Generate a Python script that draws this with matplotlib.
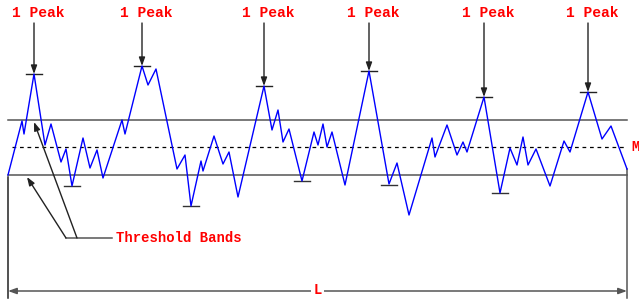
import matplotlib
matplotlib.use("Agg")
import matplotlib.pyplot as plt

# Profile (schematic units = picture units, y grows downward)
profile_x = [8, 22, 24, 34, 45, 51, 61, 66, 72, 83, 90, 97, 103, 122, 125, 142, 148, 156,
             177, 185, 191, 201, 203, 214, 223, 229, 238, 264, 272, 278, 283, 289, 302,
             314, 318, 323, 327, 332, 345, 369, 389, 397, 409, 432, 435, 447, 457, 463,
             467, 484, 500, 510, 517, 523, 528, 536, 550, 564, 570, 588, 602, 611, 627]
profile_y = [175, 121, 134, 74, 145, 124, 162, 149, 186, 138, 168, 150, 178, 120, 134, 66, 85, 69,
             169, 155, 206, 161, 171, 136, 164, 152, 197, 86, 130, 110, 142, 129, 181,
             132, 145, 124, 147, 132, 185, 71, 184, 163, 215, 138, 157, 125, 155, 142,
             152, 97, 193, 148, 165, 137, 165, 149, 186, 141, 152, 92, 139, 126, 169]

peak_x = [34, 142, 264, 369, 484, 588]
peak_y = [74, 66, 86, 71, 97, 92]
valley_x = [72, 191, 302, 389, 500]
valley_y = [186, 206, 181, 185, 193]

upper_band = 120
mean_line = 147
lower_band = 175
x_start, x_end = 8, 627

peak_label = "1 Peak"
band_label = "Threshold Bands"
length_label = "L"
mean_label = "M"

fig = plt.figure(figsize=(6.39, 3.0), dpi=100)
ax = fig.add_axes([0, 0, 1, 1])
ax.set_xlim(0, 639)
ax.set_ylim(300, 0)
ax.axis("off")

font = dict(family=["Liberation Mono", "DejaVu Sans Mono"], weight="bold", color="#ff0000", size=10.5)
font_small = dict(font, size=10)

arrow_style = "-|>,head_length=0.5,head_width=0.18"

# bands
ax.plot([x_start, x_end], [upper_band, upper_band], color="#555555", lw=1.1, zorder=1)
ax.plot([x_start, x_end], [lower_band, lower_band], color="#555555", lw=1.1, zorder=1)
ax.plot([x_start + 4, x_end], [mean_line, mean_line], color="black", lw=0.9,
        dashes=(3, 3), zorder=1)

# profile
ax.plot(profile_x, profile_y, color="#0000ff", lw=1.0, zorder=3)

# peak markers and arrows
for px, py in zip(peak_x, peak_y):
    ax.plot([px - 8, px + 8], [py, py], color="#222222", lw=1.0, zorder=2)
    ax.annotate("", xy=(px, py), xytext=(px, 23),
                arrowprops=dict(arrowstyle=arrow_style,
                                color="#222222", lw=1.0, shrinkA=0, shrinkB=0))
    ax.text(px + 4, 13, peak_label, ha="center", va="center", **font)

for vx, vy in zip(valley_x, valley_y):
    ax.plot([vx - 8, vx + 8], [vy, vy], color="#333333", lw=1.0, zorder=2)

# threshold band leaders
ax.plot([66, 112], [238, 238], color="#555555", lw=1.1)
ax.annotate("", xy=(27, 177), xytext=(66, 238),
            arrowprops=dict(arrowstyle=arrow_style,
                            color="#222222", lw=1.0, shrinkA=0, shrinkB=0))
ax.annotate("", xy=(34, 122), xytext=(77, 238),
            arrowprops=dict(arrowstyle=arrow_style,
                            color="#222222", lw=1.0, shrinkA=0, shrinkB=0))
ax.text(116, 238, band_label, ha="left", va="center", **font_small)

# mean label
ax.text(631, mean_line, mean_label, ha="left", va="center", **font_small)

# length dimension
ax.plot([x_start, x_start], [lower_band + 2, 298], color="#222222", lw=1.1)
ax.plot([x_end, x_end], [169, 298], color="#555555", lw=1.1)
ax.annotate("", xy=(x_start, 291), xytext=(x_end, 291),
            arrowprops=dict(arrowstyle="<|-|>,head_length=0.5,head_width=0.18",
                            color="#555555", lw=1.1, shrinkA=0, shrinkB=0))
ax.text((x_start + x_end) / 2, 290, length_label, ha="center", va="center",
        bbox=dict(facecolor="white", edgecolor="none", pad=1.5), **font_small)

fig.savefig("out.png", dpi=100)
